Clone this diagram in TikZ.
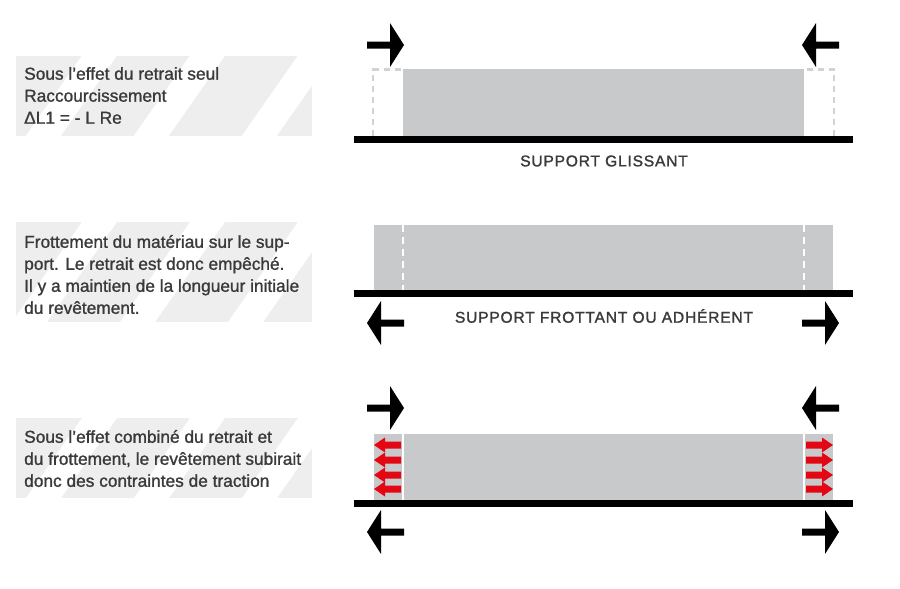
\documentclass[tikz,border=0pt]{standalone}
\usepackage{fontspec}
\setmainfont{Liberation Sans}[FakeBold=1.2]
\newfontfamily\captionfont{Liberation Sans}[LetterSpace=5,FakeBold=1.5]
\definecolor{bandgrey}{HTML}{EEEEEE}
\definecolor{slabgrey}{HTML}{C8C9CB}
\definecolor{dashgrey}{HTML}{D2D2D2}
\definecolor{tensionred}{HTML}{E30613}
\definecolor{inkgrey}{HTML}{3A3A3A}
\tikzset{
    bandtext/.style={anchor=west, align=left, inner sep=0pt, text=inkgrey, font=\fontsize{17.3}{22}\selectfont},
    captiontext/.style={inner sep=0pt, text=inkgrey, font=\captionfont\fontsize{15.6}{22}\selectfont},
    slab/.style={fill=slabgrey, draw=none},
    supportbar/.style={fill=black, draw=none},
    outline/.style={draw=dashgrey, line width=2.5pt, dash pattern=on 6pt off 5pt},
    joint/.style={draw=white, line width=1.5pt, dash pattern=on 7pt off 5pt},
    jointsolid/.style={draw=white, line width=1.5pt},
}
\newcommand{\blockarrow}[3]{% tail x, y, direction
    \fill[black, shift={(#1,#2)}, xscale=#3] (0,-3.5) -- (23,-3.5) -- (23,-22) -- (37,0) -- (23,22) -- (23,3.5) -- (0,3.5) -- cycle;
}
\newcommand{\redarrow}[3]{% tail x, y, direction
    \fill[tensionred, shift={(#1,#2)}, xscale=#3] (0,-3.5) -- (16,-3.5) -- (16,-7.5) -- (27,0) -- (16,7.5) -- (16,3.5) -- (0,3.5) -- cycle;
}
\newcommand{\stripeband}[2]{% top y, bottom y
    \begin{scope}
        \clip (16,#1) rectangle (312,#2);
        \fill[bandgrey] (16,#1) rectangle (312,#2);
        \foreach \stripe in {82,190,298} {
            \fill[white] ({\stripe},#1) -- ({\stripe+35},#1) -- ({\stripe+35-0.7*(#2-#1)},#2) -- ({\stripe-0.7*(#2-#1)},#2) -- cycle;
        }
    \end{scope}
}
\begin{document}
\begin{tikzpicture}[x=1pt, y=-1pt]
    \useasboundingbox (0,0) rectangle (900,589);

    \stripeband{55.5}{136}
    \stripeband{222}{322}
    \stripeband{418}{498}

    \node[bandtext] (retrait) at (24,95.5) {Sous l’effet du retrait seul\\Raccourcissement\\ΔL1 = - L Re};
    \node[bandtext] (frottement) at (24,274.5) {Frottement du matériau sur le sup-\\port. Le retrait est donc empêché.\\Il y a maintien de la longueur initiale\\du revêtement.};
    \node[bandtext] (combine) at (24,458.5) {Sous l’effet combiné du retrait et\\du frottement, le revêtement subirait\\donc des contraintes de traction};

    \fill[slab] (403,69) rectangle (804,136);
    \draw[outline] (373,136) -- (373,69.5) -- (403,69.5);
    \draw[outline] (834,136) -- (834,69.5) -- (804,69.5);
    \fill[supportbar] (354,136) rectangle (853,142.5);
    \node[captiontext] (glissant) at (604,161) {SUPPORT GLISSANT};
    \blockarrow{367}{45}{1}
    \blockarrow{839}{45}{-1}

    \fill[slab] (374,224.5) rectangle (833,290);
    \draw[joint] (403,224.5) -- (403,290);
    \draw[joint] (804,224.5) -- (804,290);
    \fill[supportbar] (354,290) rectangle (853,297);
    \node[captiontext] (frottant) at (604,316) {SUPPORT FROTTANT OU ADHÉRENT};
    \blockarrow{404}{323}{-1}
    \blockarrow{802}{323}{1}

    \fill[slab] (374,434) rectangle (833,500);
    \draw[jointsolid] (403,434) -- (403,500);
    \draw[jointsolid] (804,434) -- (804,500);
    \fill[supportbar] (354,500) rectangle (853,507);
    \foreach \level in {445,460,475,489} {
        \redarrow{401}{\level}{-1}
        \redarrow{806}{\level}{1}
    }
    \blockarrow{367}{408}{1}
    \blockarrow{839}{408}{-1}
    \blockarrow{404}{532}{-1}
    \blockarrow{802}{532}{1}
\end{tikzpicture}
\end{document}
